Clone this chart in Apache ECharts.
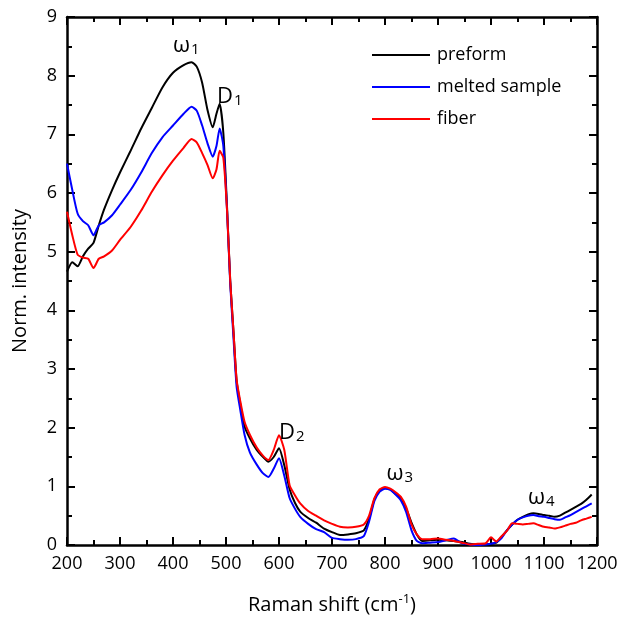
<!DOCTYPE html>
<html><head><meta charset="utf-8">
<script src="https://cdn.jsdelivr.net/npm/echarts@6/dist/echarts.min.js"></script>
<style>html,body{margin:0;padding:0;background:#fff}#c{width:622px;height:628px}</style>
</head><body><div id="c"></div>
<script>
const ramanShift = [200,210,220,230,240,250,260,270,285,300,320,340,360,380,400,420,435,445,455,465,475,482,488,495,502,508,514,520,527,535,545,558,570,580,590,600,610,620,630,640,655,670,685,700,715,730,745,760,770,780,790,800,810,820,830,840,850,860,870,885,900,915,930,945,960,975,990,1000,1010,1020,1030,1040,1050,1060,1070,1080,1090,1100,1110,1120,1130,1140,1150,1160,1170,1180,1190];
const preform = [4.66,4.82,4.75,4.92,5.05,5.15,5.45,5.72,6.05,6.35,6.72,7.10,7.45,7.80,8.05,8.18,8.23,8.15,7.88,7.42,7.12,7.35,7.52,7.02,5.75,4.50,3.66,2.80,2.40,2.02,1.82,1.62,1.50,1.42,1.50,1.65,1.36,0.95,0.72,0.57,0.46,0.38,0.28,0.22,0.17,0.18,0.20,0.25,0.45,0.78,0.93,0.97,0.95,0.87,0.80,0.62,0.38,0.18,0.07,0.08,0.09,0.08,0.07,0.05,0.02,0.01,0.01,0.02,0.04,0.14,0.25,0.35,0.43,0.48,0.52,0.54,0.53,0.51,0.50,0.48,0.50,0.55,0.60,0.65,0.70,0.77,0.86];
const melted = [6.50,6.05,5.65,5.52,5.45,5.28,5.45,5.50,5.62,5.80,6.05,6.35,6.68,6.95,7.15,7.35,7.47,7.40,7.15,6.85,6.62,6.80,7.10,6.80,5.70,4.45,3.55,2.70,2.30,1.88,1.58,1.37,1.22,1.16,1.30,1.48,1.18,0.80,0.62,0.48,0.36,0.27,0.22,0.12,0.10,0.09,0.10,0.15,0.40,0.75,0.91,0.96,0.94,0.86,0.76,0.56,0.25,0.07,0.03,0.04,0.05,0.08,0.11,0.03,0.01,0.00,0.01,0.02,0.05,0.12,0.25,0.35,0.43,0.47,0.50,0.51,0.49,0.48,0.46,0.44,0.43,0.47,0.51,0.56,0.61,0.66,0.71];
const fiber = [5.68,5.28,4.95,4.90,4.88,4.72,4.88,4.92,5.02,5.20,5.42,5.70,6.02,6.30,6.55,6.77,6.92,6.86,6.68,6.48,6.25,6.40,6.72,6.60,5.70,4.50,3.66,2.82,2.45,2.10,1.88,1.66,1.52,1.45,1.62,1.87,1.62,1.02,0.85,0.71,0.58,0.50,0.42,0.36,0.31,0.30,0.31,0.35,0.50,0.80,0.95,0.99,0.96,0.90,0.82,0.65,0.35,0.18,0.10,0.10,0.11,0.09,0.07,0.04,0.01,0.02,0.03,0.13,0.06,0.15,0.24,0.37,0.36,0.35,0.36,0.37,0.34,0.31,0.30,0.28,0.30,0.33,0.36,0.38,0.42,0.45,0.48];
const seriesNames = ['preform','melted sample','fiber'];
const seriesColors = ['#000000','#0000ff','#ff0000'];
const xTicks = [200,300,400,500,600,700,800,900,1000,1100,1200];
const yTicks = [0,1,2,3,4,5,6,7,8,9];
const peakLabels = [
  {main:'ω', sub:'1', x:425, y:8.55},
  {main:'D', sub:'1', x:507, y:7.68},
  {main:'D', sub:'2', x:624, y:1.95},
  {main:'ω', sub:'3', x:828, y:1.25},
  {main:'ω', sub:'4', x:1095, y:0.84}
];

const FONT = '"Open Sans", "Noto Sans", sans-serif';
const pair = ys => ramanShift.map((x,i)=>[x, ys[i]]);
const allY = [preform, melted, fiber];

const baseX = {
  type:'value', min:xTicks[0], max:xTicks[xTicks.length-1], interval:100,
  axisLine:{show:true, onZero:false, lineStyle:{color:'#000', width:2.5}},
  axisTick:{show:true, inside:true, length:8, lineStyle:{color:'#000', width:2}},
  minorTick:{show:true, splitNumber:2, length:5, lineStyle:{color:'#000', width:2}},
  splitLine:{show:false}
};
const baseY = {
  type:'value', min:yTicks[0], max:yTicks[yTicks.length-1], interval:1,
  axisLine:{show:true, onZero:false, lineStyle:{color:'#000', width:2.5}},
  axisTick:{show:true, inside:true, length:8, lineStyle:{color:'#000', width:2}},
  minorTick:{show:true, splitNumber:2, length:5, lineStyle:{color:'#000', width:2}},
  splitLine:{show:false}
};

const chart = echarts.init(document.getElementById('c'), null, {renderer:'canvas'});
const series = seriesNames.map((n,i)=>({
  name:n, type:'line', data:pair(allY[i]), showSymbol:false, symbol:'none',
  smooth:0.2, lineStyle:{color:seriesColors[i], width:2}, itemStyle:{color:seriesColors[i]},
  z: 2+i, animation:false
}));

chart.setOption({
  backgroundColor:'#fff',
  animation:false,
  grid:{left:67, right:25, top:17, bottom:83, containLabel:false},
  legend:{
    data:seriesNames, orient:'vertical', left:367, top:41,
    itemWidth:58, itemHeight:2, icon:'rect', itemGap:14,
    textStyle:{fontFamily:FONT, fontSize:18, color:'#000', padding:[0,0,0,2]}
  },
  xAxis:[
    Object.assign({}, baseX, {position:'bottom',
      axisLabel:{show:true, fontFamily:FONT, fontSize:18, color:'#000', margin:10, formatter: v => String(v)},
      name:'Raman shift (cm{sup|-1})', nameLocation:'middle', nameGap:48,
      nameTextStyle:{fontFamily:FONT, fontSize:20, color:'#000',
        rich:{sup:{fontFamily:FONT, fontSize:13, color:'#000', padding:[0,0,12,0]}}}
    }),
    Object.assign({}, baseX, {position:'top', axisLabel:{show:false}})
  ],
  yAxis:[
    Object.assign({}, baseY, {position:'left',
      axisLabel:{show:true, fontFamily:FONT, fontSize:18, color:'#000', margin:10, formatter: v => String(v)},
      name:'Norm. intensity', nameLocation:'middle', nameGap:37,
      nameTextStyle:{fontFamily:FONT, fontSize:20, color:'#000'}
    }),
    Object.assign({}, baseY, {position:'right', axisLabel:{show:false}})
  ],
  series: series
});

chart.setOption({
  graphic: peakLabels.map(p => {
    const pt = chart.convertToPixel({xAxisIndex:0, yAxisIndex:0}, [p.x, p.y]);
    return {
      type:'text', x:pt[0], y:pt[1], z:100,
      style:{
        text:'{m|'+p.main+'}{s|'+p.sub+'}',
        align:'center', verticalAlign:'middle',
        rich:{
          m:{fontFamily:FONT, fontSize:22, fill:'#000', color:'#000', verticalAlign:'bottom'},
          s:{fontFamily:FONT, fontSize:15, fill:'#000', color:'#000', verticalAlign:'bottom', padding:[12,0,0,1]}
        }
      }
    };
  })
});
</script></body></html>
